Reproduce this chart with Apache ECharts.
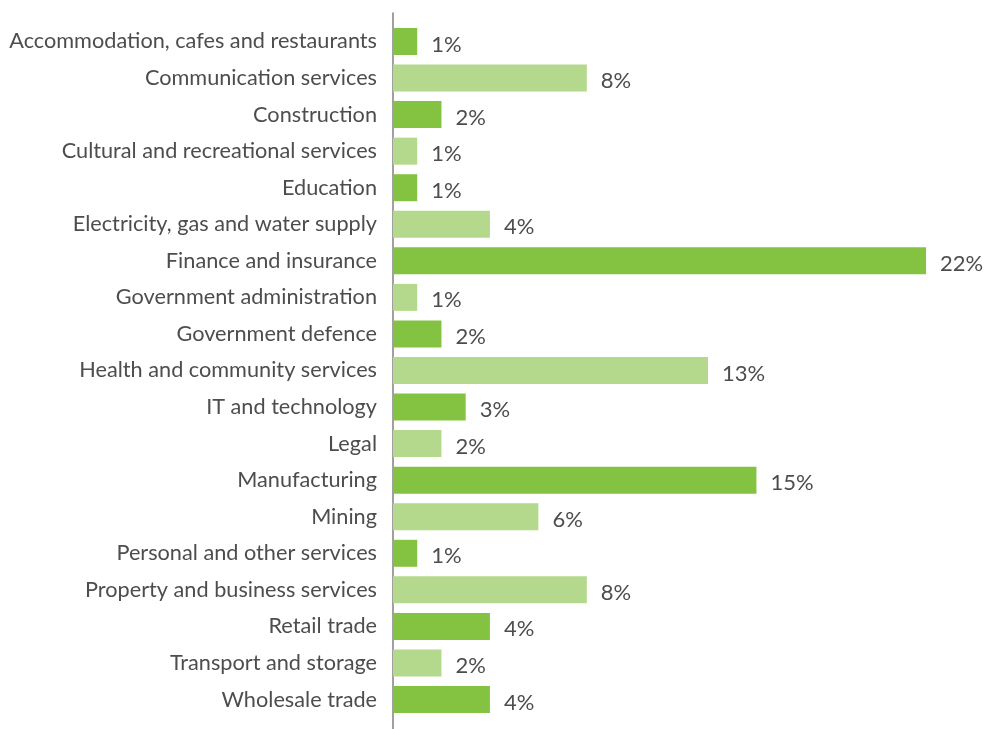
<!DOCTYPE html>
<html><head><meta charset="utf-8">
<script src="https://cdn.jsdelivr.net/npm/echarts@6/dist/echarts.min.js"></script>
<style>html,body{margin:0;padding:0;background:#fff}#c{width:991px;height:729px}</style>
</head><body><div id="c"></div>
<script>
const categories = ["Accommodation, cafes and restaurants","Communication services","Construction","Cultural and recreational services","Education","Electricity, gas and water supply","Finance and insurance","Government administration","Government defence","Health and community services","IT and technology","Legal","Manufacturing","Mining","Personal and other services","Property and business services","Retail trade","Transport and storage","Wholesale trade"];
const values = [1,8,2,1,1,4,22,1,2,13,3,2,15,6,1,8,4,2,4];
const colors = ["#84c341","#b5d98c"];
const FONT = "Lato";
const chart = echarts.init(document.getElementById('c'));
chart.setOption({
  animation:false,
  grid:[{left:393,width:581.5,top:23.2,height:694.6,containLabel:false},
        {left:393,width:581.5,top:13,bottom:0}],
  xAxis:[{type:'value',min:0,max:24,show:false,gridIndex:0},
         {type:'value',min:0,max:24,show:false,gridIndex:1}],
  yAxis:[{type:'category',data:categories,inverse:true,gridIndex:0,
          axisLine:{show:false},axisTick:{show:false},
          axisLabel:{margin:16,color:'#4d4d4d',fontSize:21.7,fontFamily:FONT}},
         {type:'value',gridIndex:1,min:0,max:1,axisLine:{show:true,lineStyle:{color:'#808080',width:1.5}},
          axisTick:{show:false},axisLabel:{show:false},splitLine:{show:false}}],
  series:[{type:'bar',xAxisIndex:0,yAxisIndex:0,barWidth:27,
    data:values.map((v,i)=>({value:v,itemStyle:{color:colors[i%2]}})),
    label:{show:true,position:'right',distance:14,offset:[0,3],formatter:'{c}%',color:'#4d4d4d',fontSize:22,fontFamily:FONT}}]
});
</script></body></html>
